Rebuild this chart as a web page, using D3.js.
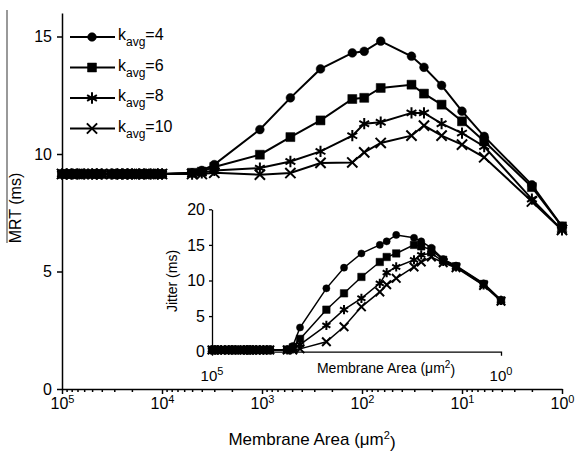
<!DOCTYPE html>
<html>
<head>
<meta charset="utf-8">
<script src="https://cdn.jsdelivr.net/npm/d3@7"></script>
<style>
  body { margin: 0; background: #fff; }
  text { font-family: "Liberation Sans", Arial, sans-serif; fill: #000; }
</style>
</head>
<body>
<div id="chart"></div>
<script>
// membrane areas (um^2), shared by every series
var areas = [100000, 90000, 80000, 70000, 60000, 50000, 45000, 40000,
  32000, 28000, 25000, 22000, 20000, 17000, 15000, 13000, 11000, 10000,
  5000, 4000, 3000, 1050, 520, 260, 125, 95, 65, 32, 24, 16, 10, 6, 2, 1];

// mean response time (ms), main panel
var mrtK4 = [9.15, 9.15, 9.15, 9.15, 9.15, 9.15, 9.15, 9.15, 9.15, 9.15, 9.15, 9.15, 9.15, 9.15, 9.15, 9.15, 9.15, 9.15,
  9.2, 9.3, 9.55, 11.04, 12.39, 13.62, 14.30, 14.37, 14.80, 14.16, 13.69, 12.92, 11.82, 10.75, 8.69, 6.92];
var mrtK6 = [9.15, 9.15, 9.15, 9.15, 9.15, 9.15, 9.15, 9.15, 9.15, 9.15, 9.15, 9.15, 9.15, 9.15, 9.15, 9.15, 9.15, 9.15,
  9.2, 9.25, 9.45, 9.97, 10.72, 11.43, 12.34, 12.39, 12.81, 12.95, 12.57, 12.10, 11.39, 10.54, 8.59, 6.92];
var mrtK8 = [9.15, 9.15, 9.15, 9.15, 9.15, 9.15, 9.15, 9.15, 9.15, 9.15, 9.15, 9.15, 9.15, 9.15, 9.15, 9.15, 9.15, 9.15,
  9.15, 9.2, 9.3, 9.40, 9.68, 10.11, 10.78, 11.29, 11.35, 11.75, 11.75, 11.29, 10.89, 10.32, 8.08, 6.77];
var mrtK10 = [9.15, 9.15, 9.15, 9.15, 9.15, 9.15, 9.15, 9.15, 9.15, 9.15, 9.15, 9.15, 9.15, 9.15, 9.15, 9.15, 9.15, 9.15,
  9.15, 9.15, 9.2, 9.12, 9.19, 9.62, 9.64, 10.07, 10.47, 10.78, 11.21, 10.78, 10.40, 9.86, 7.98, 6.77];

// jitter (ms), inset
var jitK4 = [0.25, 0.25, 0.25, 0.25, 0.25, 0.25, 0.25, 0.25, 0.25, 0.25, 0.25, 0.25, 0.25, 0.25, 0.25, 0.25, 0.25, 0.25,
  0.3, 0.8, 3.4, 8.9, 11.8, 13.8, 15.0, 15.5, 16.4, 16.0, 15.5, 14.6, 13.0, 12.1, 9.6, 7.3];
var jitK6 = [0.25, 0.25, 0.25, 0.25, 0.25, 0.25, 0.25, 0.25, 0.25, 0.25, 0.25, 0.25, 0.25, 0.25, 0.25, 0.25, 0.25, 0.25,
  0.3, 0.6, 1.8, 5.9, 8.2, 10.5, 12.6, 13.3, 13.8, 15.0, 14.8, 14.3, 12.9, 12.0, 9.5, 7.2];
var jitK8 = [0.25, 0.25, 0.25, 0.25, 0.25, 0.25, 0.25, 0.25, 0.25, 0.25, 0.25, 0.25, 0.25, 0.25, 0.25, 0.25, 0.25, 0.25,
  0.25, 0.4, 1.0, 3.7, 5.9, 7.5, 9.6, 11.1, 11.9, 12.9, 13.6, 13.8, 12.7, 11.9, 9.4, 7.2];
var jitK10 = [0.25, 0.25, 0.25, 0.25, 0.25, 0.25, 0.25, 0.25, 0.25, 0.25, 0.25, 0.25, 0.25, 0.25, 0.25, 0.25, 0.25, 0.25,
  0.25, 0.25, 0.4, 1.4, 3.5, 6.3, 8.4, 9.4, 10.3, 11.9, 12.6, 13.3, 12.5, 11.8, 9.3, 7.1];

var kLabels = ["4", "6", "8", "10"];
var decades = [100000, 10000, 1000, 100, 10, 1];
var mrtTicks = [0, 5, 10, 15];
var jitTicks = [0, 5, 10, 15, 20];

var symbols = [d3.symbolCircle, d3.symbolSquare, d3.symbolAsterisk, d3.symbolTimes];
var filled = [true, true, false, false];

var W = 575, H = 452;
var svg = d3.select("#chart").append("svg")
  .attr("width", W).attr("height", H);

// ---- main panel ----
var x = d3.scaleLog().domain([1e5, 1]).range([62, 562]);
var y = d3.scaleLinear().domain([0, 16]).range([389, 13]);

// minor ticks 2..9 of each decade
var minors = [];
decades.slice(1).forEach(function(d) {
  for (var i = 2; i <= 9; i++) minors.push(d * i);
});

function powLabels(sel, sup) {
  sel.each(function(d) {
    var t = d3.select(this);
    t.text(null);
    t.append("tspan").text("10");
    t.append("tspan").attr("dy", "-0.55em").attr("font-size", sup).text(Math.round(Math.log10(d)));
  });
}

var xAxisG = svg.append("g")
  .attr("transform", "translate(0,389)")
  .call(d3.axisBottom(x).tickValues(decades).tickSize(5).tickSizeOuter(0).tickPadding(4));
xAxisG.selectAll(".tick text").attr("font-size", 16).call(powLabels, 11);

svg.append("g")
  .attr("transform", "translate(0,389)")
  .call(d3.axisBottom(x).tickValues(minors).tickSize(3).tickFormat(""))
  .call(function(g) { g.select(".domain").remove(); });

var yAxisG = svg.append("g")
  .attr("transform", "translate(62,0)")
  .call(d3.axisLeft(y).tickValues(mrtTicks).tickSize(5).tickSizeOuter(0).tickPadding(5));
yAxisG.selectAll(".tick text").attr("font-size", 16);

svg.selectAll(".domain, .tick line").attr("stroke", "#000").attr("stroke-width", 1.5);

// axis titles
var xt = svg.append("text")
  .attr("x", 312).attr("y", 445)
  .attr("text-anchor", "middle").attr("font-size", 17);
xt.append("tspan").text("Membrane Area (\u03bcm");
xt.append("tspan").attr("dy", "-0.55em").attr("font-size", 11).text("2");
xt.append("tspan").attr("dy", "0.55em").text(")");

svg.append("text")
  .attr("transform", "translate(21,208) rotate(-90)")
  .attr("text-anchor", "middle").attr("font-size", 16)
  .text("MRT (ms)");
// overline of MRT
svg.append("line")
  .attr("x1", 7).attr("x2", 7).attr("y1", 10).attr("y2", 243)
  .attr("stroke", "#555").attr("stroke-width", 1.2);

function drawSeries(g, xs, ys, series, sizes, lw) {
  var line = d3.line()
    .x(function(d, i) { return xs(areas[i]); })
    .y(function(d) { return ys(d); });
  series.forEach(function(vals, k) {
    g.append("path")
      .datum(vals)
      .attr("fill", "none").attr("stroke", "#000").attr("stroke-width", lw)
      .attr("d", line);
    g.selectAll(null)
      .data(vals)
      .enter().append("path")
      .attr("transform", function(d, i) { return "translate(" + xs(areas[i]) + "," + ys(d) + ")"; })
      .attr("d", d3.symbol().type(symbols[k]).size(sizes[k]))
      .attr("fill", filled[k] ? "#000" : "none")
      .attr("stroke", "#000")
      .attr("stroke-width", filled[k] ? 0.5 : 2);
  });
}

drawSeries(svg.append("g"), x, y, [mrtK4, mrtK6, mrtK8, mrtK10], [60, 81, 90, 70], 2);

// legend
var legend = svg.append("g");
kLabels.forEach(function(k, i) {
  var ly = 37 + i * 30.5;
  legend.append("line")
    .attr("x1", 70).attr("x2", 115).attr("y1", ly).attr("y2", ly)
    .attr("stroke", "#000").attr("stroke-width", 2);
  legend.append("path")
    .attr("transform", "translate(92," + ly + ")")
    .attr("d", d3.symbol().type(symbols[i]).size([60, 81, 90, 70][i]))
    .attr("fill", filled[i] ? "#000" : "none")
    .attr("stroke", "#000").attr("stroke-width", filled[i] ? 0.5 : 2);
  var t = legend.append("text")
    .attr("x", 118).attr("y", ly + 3).attr("font-size", 16);
  t.append("tspan").text("k");
  t.append("tspan").attr("dy", 6).attr("font-size", 12).text("avg");
  t.append("tspan").attr("dy", -6).text("=" + k);
});

// ---- inset ----
var xi = d3.scaleLog().domain([1e5, 1]).range([212, 501]);
var yi = d3.scaleLinear().domain([0, 20]).range([351.7, 209.3]);

var inset = svg.append("g");
inset.append("g")
  .attr("transform", "translate(0,351.7)")
  .call(d3.axisBottom(xi).tickValues([]).tickSizeOuter(4));

var yiG = inset.append("g")
  .attr("transform", "translate(212,0)")
  .call(d3.axisLeft(yi).tickValues(jitTicks).tickSize(3).tickSizeOuter(0).tickPadding(4));
yiG.selectAll(".tick text").attr("font-size", 16);
inset.selectAll(".domain, .tick line").attr("stroke", "#000").attr("stroke-width", 1.3);

inset.selectAll(".endLabel")
  .data([1e5, 1])
  .enter().append("text")
  .attr("x", function(d) { return xi(d); })
  .attr("y", 381)
  .attr("text-anchor", "middle").attr("font-size", 15)
  .call(powLabels, 11);

var xit = inset.append("text")
  .attr("x", 386).attr("y", 373)
  .attr("text-anchor", "middle").attr("font-size", 14);
xit.append("tspan").text("Membrane Area (\u03bcm");
xit.append("tspan").attr("dy", "-0.55em").attr("font-size", 10).text("2");
xit.append("tspan").attr("dy", "0.55em").text(")");

inset.append("text")
  .attr("transform", "translate(177,281) rotate(-90)")
  .attr("text-anchor", "middle").attr("font-size", 14)
  .text("Jitter (ms)");

drawSeries(inset.append("g"), xi, yi, [jitK4, jitK6, jitK8, jitK10], [40, 56, 60, 50], 1.5);
</script>
</body>
</html>
